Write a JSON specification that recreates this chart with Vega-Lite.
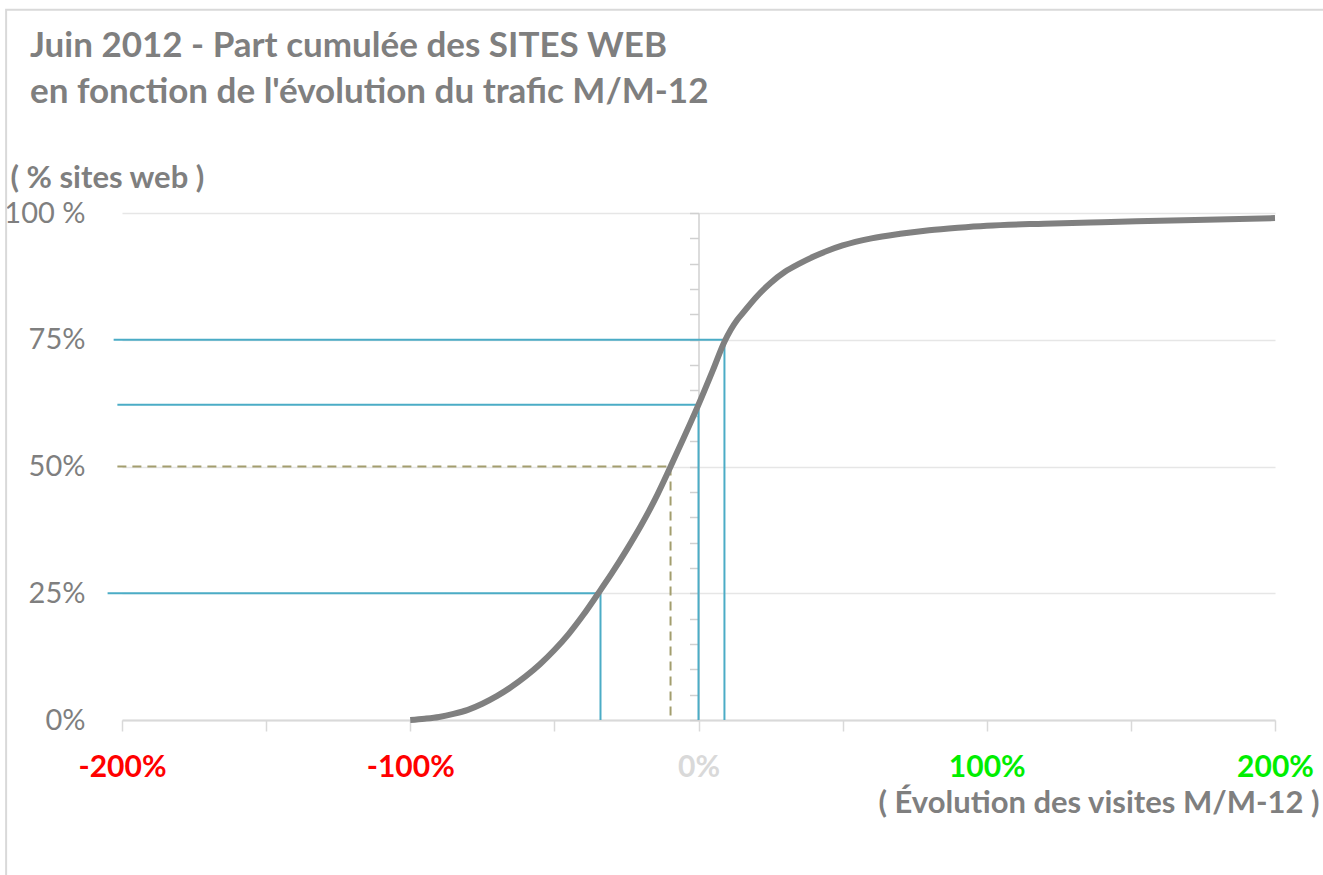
{
  "$schema": "https://vega.github.io/schema/vega-lite/v6.json",
  "width": 1153,
  "height": 507,
  "autosize": "none",
  "padding": {"left": 122, "top": 213, "right": 48, "bottom": 155},
  "background": "white",
  "config": {
    "view": {"stroke": null},
    "font": "Lato, sans-serif"
  },
  "title": {
    "text": "Juin 2012 - Part cumulée des SITES WEB",
    "subtitle": "en fonction de l'évolution du trafic M/M-12",
    "anchor": "start",
    "frame": "group",
    "dx": -92,
    "dy": 157,
    "offset": 56,
    "color": "#7f7f7f",
    "font": "Lato, sans-serif",
    "fontSize": 35,
    "fontWeight": "bold",
    "subtitleColor": "#7f7f7f",
    "subtitleFont": "Lato, sans-serif",
    "subtitleFontSize": 35,
    "subtitleFontWeight": "bold",
    "subtitlePadding": 11
  },
  "datasets": {
    "curve": [
      {"evol": -100, "pct": 0}, {"evol": -95, "pct": 0.25}, {"evol": -90, "pct": 0.6},
      {"evol": -85, "pct": 1.2}, {"evol": -80, "pct": 2.0}, {"evol": -75, "pct": 3.2},
      {"evol": -70, "pct": 4.7}, {"evol": -65, "pct": 6.5}, {"evol": -60, "pct": 8.6},
      {"evol": -55, "pct": 11.0}, {"evol": -50, "pct": 13.8}, {"evol": -45, "pct": 17.0},
      {"evol": -40, "pct": 20.7}, {"evol": -35, "pct": 24.8}, {"evol": -30, "pct": 29.0},
      {"evol": -25, "pct": 33.5}, {"evol": -20, "pct": 38.3}, {"evol": -15, "pct": 43.6},
      {"evol": -10, "pct": 49.6}, {"evol": -5, "pct": 55.8}, {"evol": 0, "pct": 62.2},
      {"evol": 5, "pct": 69.0}, {"evol": 9, "pct": 74.6}, {"evol": 13.4, "pct": 78.9},
      {"evol": 15, "pct": 80.0}, {"evol": 20, "pct": 83.4}, {"evol": 25, "pct": 86.2},
      {"evol": 30, "pct": 88.4}, {"evol": 35, "pct": 90.0}, {"evol": 40, "pct": 91.4},
      {"evol": 45, "pct": 92.6}, {"evol": 50, "pct": 93.6}, {"evol": 60, "pct": 95.0},
      {"evol": 70, "pct": 95.9}, {"evol": 80, "pct": 96.6}, {"evol": 90, "pct": 97.1},
      {"evol": 100, "pct": 97.5}, {"evol": 120, "pct": 97.9}, {"evol": 140, "pct": 98.2},
      {"evol": 160, "pct": 98.45}, {"evol": 180, "pct": 98.7}, {"evol": 200, "pct": 99.0}
    ],
    "refs": [
      {"pct": 25, "evol": -34, "start": -205, "style": "quartile"},
      {"pct": 50, "evol": -9.7, "start": -201.6, "style": "median"},
      {"pct": 62.2, "evol": 0, "start": -201.6, "style": "quartile"},
      {"pct": 75, "evol": 9, "start": -202.9, "style": "quartile"}
    ]
  },
  "resolve": {"axis": {"y": "independent"}},
  "layer": [
    {
      "data": {"values": [{"frame": "chart area"}]},
      "mark": {"type": "rect", "filled": false, "stroke": "#d9d9d9", "strokeWidth": 2, "clip": false},
      "encoding": {
        "x": {"datum": -240.2, "type": "quantitative"},
        "x2": {"datum": 260},
        "y": {"datum": 140.1, "type": "quantitative", "axis": null},
        "y2": {"datum": -40}
      }
    },
    {
      "data": {"name": "refs"},
      "mark": {"type": "rule", "strokeWidth": 2, "clip": false},
      "encoding": {
        "x": {
          "field": "start", "type": "quantitative",
          "scale": {"domain": [-200, 200], "nice": false, "zero": false},
          "axis": {
            "values": [-200, -150, -100, -50, 0, 50, 100, 150, 200],
            "labelExpr": "datum.value % 100 == 0 ? datum.value + '%' : ''",
            "labelColor": {"expr": "datum.value < 0 ? '#ff0000' : (datum.value > 0 ? '#00ee00' : '#d9d9d9')"},
            "labelFontSize": 30, "labelFontWeight": "bold", "labelPadding": 21, "labelBaseline": "top",
            "labelFont": "Lato, sans-serif",
            "labelOverlap": false, "labelFlush": false,
            "domainColor": "#d9d9d9", "domainWidth": 2,
            "tickColor": "#d9d9d9", "tickWidth": 1.5, "tickSize": 11,
            "grid": false,
            "title": "( Évolution des visites M/M-12 )",
            "titleFont": "Lato, sans-serif",
            "titleFontSize": 31, "titleFontWeight": "bold", "titleColor": "#7f7f7f",
            "titleAlign": "right", "titleBaseline": "middle",
            "titleX": 1197, "titleY": 83
          }
        },
        "x2": {"field": "evol"},
        "y": {"field": "pct", "type": "quantitative", "scale": {"domain": [0, 100], "nice": false}, "axis": null},
        "color": {"field": "style", "type": "nominal", "scale": {"domain": ["quartile", "median"], "range": ["#4bacc6", "#a39e6e"]}, "legend": null},
        "strokeDash": {"field": "style", "type": "nominal", "scale": {"domain": ["quartile", "median"], "range": [[1, 0], [9, 6]]}, "legend": null}
      }
    },
    {
      "data": {"name": "refs"},
      "mark": {"type": "rule", "strokeWidth": 2, "clip": false},
      "encoding": {
        "x": {"field": "evol", "type": "quantitative"},
        "y": {"field": "pct", "type": "quantitative",
          "axis": {
            "orient": "left", "offset": -576.5, "labels": false, "title": null, "grid": false,
            "domain": true, "domainColor": "#d0d0d0", "domainWidth": 1.5,
            "ticks": true, "tickColor": "#d0d0d0", "tickWidth": 1.5, "tickSize": 9,
            "values": [0, 5, 10, 15, 20, 25, 30, 35, 40, 45, 50, 55, 60, 65, 70, 75, 80, 85, 90, 95, 100]
          }
        },
        "y2": {"datum": 0},
        "color": {"field": "style", "type": "nominal", "scale": {"domain": ["quartile", "median"], "range": ["#4bacc6", "#a39e6e"]}, "legend": null},
        "strokeDash": {"field": "style", "type": "nominal", "scale": {"domain": ["quartile", "median"], "range": [[1, 0], [9, 6]]}, "legend": null}
      }
    },
    {
      "data": {"name": "curve"},
      "mark": {"type": "line", "color": "#808080", "strokeWidth": 6, "interpolate": "monotone", "strokeCap": "butt", "clip": false},
      "encoding": {
        "x": {"field": "evol", "type": "quantitative"},
        "y": {
          "field": "pct", "type": "quantitative",
          "axis": {
            "orient": "left",
            "values": [0, 25, 50, 75, 100],
            "labelExpr": "datum.value == 100 ? '100 %' : datum.value + '%'",
            "labelFontSize": 29, "labelColor": "#7f7f7f", "labelPadding": 37,
            "labelFont": "Lato, sans-serif",
            "domain": false, "ticks": false,
            "grid": true, "gridColor": "#e6e6e6", "gridWidth": 1.5,
            "title": "( % sites web )",
            "titleFont": "Lato, sans-serif",
            "titleFontSize": 31, "titleFontWeight": "bold", "titleColor": "#7f7f7f",
            "titleAngle": 0, "titleAlign": "left", "titleBaseline": "middle",
            "titleX": -112, "titleY": -35
          }
        }
      }
    }
  ]
}
